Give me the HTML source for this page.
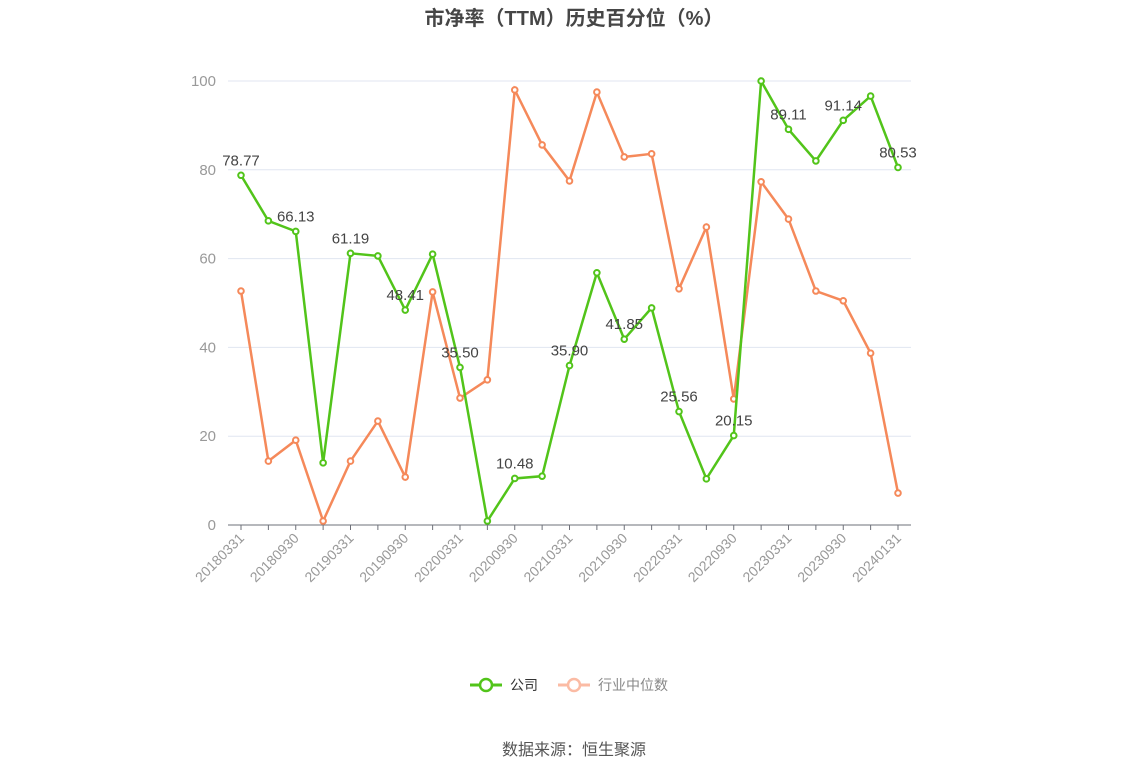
<!DOCTYPE html>
<html><head><meta charset="utf-8"><style>
body{margin:0;background:#fff;}
svg text{font-family:"Liberation Sans","Noto Sans CJK SC",sans-serif;}
</style></head><body>
<svg width="1148" height="776" viewBox="0 0 1148 776">
<text x="574" y="25" text-anchor="middle" font-size="20" font-weight="bold" fill="#464646">市净率（TTM）历史百分位（%）</text>
<g id="grid"></g><g id="axes"></g><g id="series"></g>
<g>
<line x1="470" y1="685" x2="502" y2="685" stroke="#52c41a" stroke-width="3"/>
<circle cx="486" cy="685" r="6" fill="#fff" stroke="#52c41a" stroke-width="2.5"/>
<text x="510" y="690" font-size="14" fill="#333">公司</text>
<line x1="558" y1="685" x2="590" y2="685" stroke="#fbbba4" stroke-width="3"/>
<circle cx="574" cy="685" r="6" fill="#fff" stroke="#fbbba4" stroke-width="2.5"/>
<text x="598" y="690" font-size="14" fill="#888">行业中位数</text>
</g>
<text x="574" y="755" text-anchor="middle" font-size="16" fill="#555">数据来源：恒生聚源</text>
</svg>
<script>
const categories=["20180331","20180630","20180930","20181231","20190331","20190630","20190930","20191231","20200331","20200630","20200930","20201231","20210331","20210630","20210930","20211231","20220331","20220630","20220930","20221231","20230331","20230630","20230930","20231231","20240131"];
const companyValues=[78.77,68.5,66.13,14.0,61.19,60.6,48.41,61.0,35.50,0.9,10.48,11.0,35.90,56.8,41.85,48.9,25.56,10.4,20.15,100,89.11,82.0,91.14,96.6,80.53];
const industryValues=[52.7,14.4,19.1,0.9,14.4,23.4,10.8,52.5,28.6,32.7,98.0,85.6,77.5,97.5,82.9,83.6,53.2,67.1,28.4,77.3,68.9,52.7,50.5,38.7,7.2];
const yTicks=[0,20,40,60,80,100];
const NS="http://www.w3.org/2000/svg";
const x0=241,x1=898,yb=525,yt=81;
function xs(i){return x0+(x1-x0)*i/(categories.length-1);}
function ys(v){return yb-(yb-yt)*v/100;}
function mk(tag,attrs,parent){const e=document.createElementNS(NS,tag);for(const k in attrs)e.setAttribute(k,attrs[k]);parent.appendChild(e);return e;}
const grid=document.getElementById('grid'),axes=document.getElementById('axes'),series=document.getElementById('series');
yTicks.forEach(t=>{
 if(t>0){const l=mk('line',{x1:228,x2:911,y1:ys(t),y2:ys(t),stroke:'#e0e6f1'},grid);
 
 }
 const tx=mk('text',{x:216,y:ys(t)+5,'text-anchor':'end','font-size':15,fill:'#999'},axes);tx.textContent=t;
 
 
});
const ax=mk('line',{x1:228,x2:911,y1:yb,y2:yb,stroke:'#6e7079'},axes);


categories.forEach((c,i)=>{
 const tk=mk('line',{x1:xs(i),x2:xs(i),y1:yb,y2:yb+5,stroke:'#6e7079'},axes);
 
 
 if(i%2===0){const tx=mk('text',{x:xs(i)+4,y:yb+14,'text-anchor':'end','font-size':14,fill:'#999',transform:`rotate(-45 ${xs(i)+4} ${yb+14})`},axes);tx.textContent=c;
 
 }
});
function draw(vals,color,name,labels){
 const p=mk('polyline',{points:vals.map((v,i)=>xs(i)+','+ys(v)).join(' '),fill:'none',stroke:color,'stroke-width':2.5},series);
 
 
 vals.forEach((v,i)=>{
  const c=mk('circle',{cx:xs(i),cy:ys(v),r:2.8,fill:'#fff',stroke:color,'stroke-width':2},series);
  
  
  if(labels&&i%2===0){const t=mk('text',{x:xs(i),y:ys(v)-10,'text-anchor':'middle','font-size':15,fill:'#444'},series);t.textContent=v.toFixed(2);
  
  }
 });
}
draw(industryValues,'#f5895a','industry',false);
draw(companyValues,'#52c41a','company',true);
</script>
</body></html>
